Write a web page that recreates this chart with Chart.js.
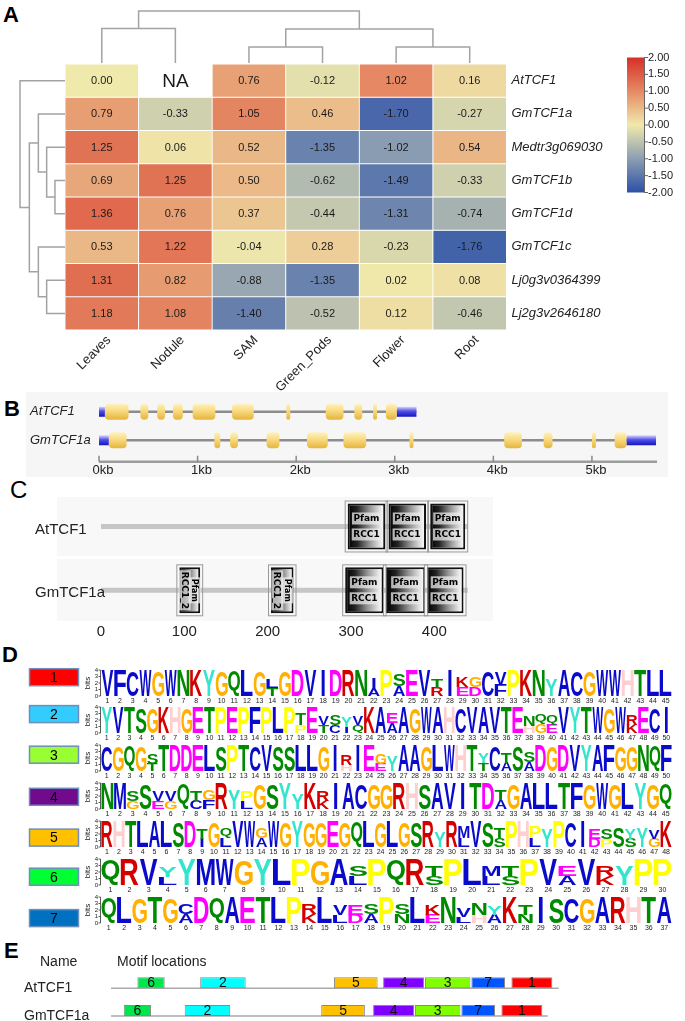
<!DOCTYPE html>
<html><head><meta charset="utf-8">
<script src="https://cdn.jsdelivr.net/npm/chart.js@4.4.1/dist/chart.umd.min.js"></script>
<style>
html,body{margin:0;padding:0;background:#fff;}
#wrap{position:relative;width:685px;height:1021px;overflow:hidden;background:#fff;}
#wrap canvas{position:absolute;left:0;}
.plab{position:absolute;font:bold 22px "Liberation Sans",Arial,sans-serif;line-height:22px;color:#000;}
</style></head><body><div id="wrap">
<div class="plab" style="left:3px;top:4px">A</div>
<div class="plab" style="left:4px;top:398px">B</div>
<div class="plab" style="left:10px;top:479px;font-weight:normal;font-size:24px">C</div>
<div class="plab" style="left:2px;top:644px">D</div>
<div class="plab" style="left:4px;top:940px">E</div>
</div>
<script>
// ===================== DATA =====================
// Panel A – expression heatmap
const tissues = ['Leaves', 'Nodule', 'SAM', 'Green_Pods', 'Flower', 'Root'];
const genes = ['AtTCF1', 'GmTCF1a', 'Medtr3g069030', 'GmTCF1b', 'GmTCF1d', 'GmTCF1c', 'Lj0g3v0364399', 'Lj2g3v2646180'];
const AtTCF1 = [0.00, null, 0.76, -0.12, 1.02, 0.16];
const GmTCF1a = [0.79, -0.33, 1.05, 0.46, -1.70, -0.27];
const Medtr3g069030 = [1.25, 0.06, 0.52, -1.35, -1.02, 0.54];
const GmTCF1b = [0.69, 1.25, 0.50, -0.62, -1.49, -0.33];
const GmTCF1d = [1.36, 0.76, 0.37, -0.44, -1.31, -0.74];
const GmTCF1c = [0.53, 1.22, -0.04, 0.28, -0.23, -1.76];
const Lj0g3v0364399 = [1.31, 0.82, -0.88, -1.35, 0.02, 0.08];
const Lj2g3v2646180 = [1.18, 1.08, -1.40, -0.52, 0.12, -0.46];
const exprRows = [AtTCF1, GmTCF1a, Medtr3g069030, GmTCF1b, GmTCF1d, GmTCF1c, Lj0g3v0364399, Lj2g3v2646180];
const colorbarTicks = [2.00, 1.50, 1.00, 0.50, 0.00, -0.50, -1.00, -1.50, -2.00];
// dendrograms: [childA, childB, mergeHeight]; new node ids follow the leaves
const colTreeMerges = [[2, 3, 0.92], [4, 5, 0.92], [0, 1, 2.0], [6, 7, 1.96], [8, 9, 3.0]];
const rowTreeMerges = [[3, 4, 0.58], [2, 8, 1.06], [6, 7, 1.06], [1, 9, 1.54], [5, 10, 1.54], [11, 12, 2.06], [0, 13, 2.6]];

// Panel B – gene structures (kb)
const geneNames = ['AtTCF1', 'GmTCF1a'];
const geneSpans = [[0, 3.22], [0, 5.65]];
const atUTRs = [[0, 0.06], [3.02, 3.22]];
const gmUTRs = [[0, 0.10], [5.35, 5.65]];
const atExons = [[0.06, 0.30], [0.42, 0.50], [0.59, 0.67], [0.75, 0.85], [0.95, 1.18], [1.35, 1.57], [1.90, 1.94], [2.30, 2.48], [2.59, 2.67], [2.78, 2.82], [2.91, 3.02]];
const gmExons = [[0.10, 0.28], [1.17, 1.23], [1.33, 1.41], [1.70, 1.83], [2.11, 2.32], [2.48, 2.71], [3.15, 3.19], [4.11, 4.29], [4.51, 4.60], [5.00, 5.04], [5.23, 5.35]];
const kbTicks = [0, 1, 2, 3, 4, 5];

// Panel C – protein domains (aa)
const protNames = ['AtTCF1', 'GmTCF1a'];
const protLengths = [440, 440];
const atRCC1 = [[296, 341], [345, 390], [395, 437]];
const gmRCC1 = [[293, 339], [342, 389], [391, 435]];
const gmRCC1_2 = [[94, 119], [204, 231]];
const aaTicks = [0, 100, 200, 300, 400];

// Panel D – motif logos (top letter / lower letter per column, heights in bits)
const m1Top = "VFCWGWNKYGQLGLGDVIDRNIPSEVTIKGCVPKNYACGWWHTLL";
const m1Low = "-------------T-------A-A--R-ED-F-------------";
const m1TopBits = [3.9,3.9,3.9,3.9,3.9,3.9,3.9,3.9,3.9,3.9,3.9,3.9,3.9,1.4,3.9,3.9,3.9,3.9,3.9,3.9,3.9,1.6,3.9,1.8,3.9,3.9,1.4,3.9,1.6,1.6,3.9,1.9,3.9,3.9,3.9,2.6,3.9,3.9,3.9,3.9,3.9,3.9,3.9,3.9,3.9];
const m1LowBits = [0,0,0,0,0,0,0,0,0,0,0,0,0,1.2,0,0,0,0,0,0,0,1.2,0,1.5,0,0,1.3,0,1.4,1.4,0,1.7,0,0,0,0,0,0,0,0,0,0,0,0,0];
const m2Top = "YVTSGKHGETPEPFPLPTEVSYVKAEAGWAHCVAVTENQQVYTWGWRECI";
const m2Low = "-----------------P-TCIQ--A-----------HGE------K---";
const m2TopBits = [3.9,3.9,3.9,3.9,3.9,3.9,3.9,3.9,3.9,3.9, 3.9,3.9,3.9,3.9,3.9,3.9,3.9,1.7,3.9,1.4, 1.7,1.6,1.4,3.9,3.9,1.5,3.9,3.9,3.9,3.9, 3.9,3.9,3.9,3.9,3.9,3.9,3.9,1.5,1.5,1.4, 3.9,3.9,3.9,3.9,3.9,3.9,1.5,3.9,3.9,3.9];
const m2LowBits = [0,0,0,0,0,0,0,0,0,0, 0,0,0,0,0,0,0,1.2,0,1.2, 1.2,1.0,1.2,0,0,1.5,0,0,0,0, 0,0,0,0,0,0,0,1.1,1.3,1.3, 0,0,0,0,0,0,1.3,0,0,0];
const m3Top = "CGQGSTDDELSPTCVSSLLGIRIEGYAAGLWHTYCTSSDGDVYAFGGNQF";
const m3Low = "----T----------------H--E--------T-A-A------------";
const m3TopBits = [3.9,3.9,3.9,3.9,1.6,3.9,3.9,3.9,3.9,3.9, 3.9,3.9,3.9,3.9,3.9,3.9,3.9,3.9,3.9,3.9, 3.9,1.5,3.9,3.9,1.5,2.4,3.9,3.9,3.9,3.9, 3.9,3.9,3.9,1.5,3.9,1.6,3.9,1.5,3.9,3.9, 3.9,3.9,3.9,3.9,3.9,3.9,3.9,3.9,3.9,3.9];
const m3LowBits = [0,0,0,0,1.1,0,0,0,0,0, 0,0,0,0,0,0,0,0,0,0, 0,1.0,0,0,1.1,0,0,0,0,0, 0,0,0,1.2,0,1.3,0,1.3,0,0, 0,0,0,0,0,0,0,0,0,0];
const m4Top = "NMSSVVQTGRYPGSYYKRIACGGRHSAVITDTGALLTFGWGLYGQ";
const m4Low = "--G-EG-CF--L-----K-------------A-------------";
const m4TopBits = [3.9,3.9,1.5,3.9,1.5,1.5,3.9,1.5,1.7,3.9, 3.0,1.6,3.9,3.9,3.9,2.4,3.9,1.5,3.9,3.9, 3.9,3.9,3.9,3.9,3.9,3.9,3.9,3.9,3.9,3.9, 3.9,1.5,3.9,3.9,3.9,3.9,3.9,3.9,3.9,3.9, 3.9,3.9,3.9,3.9,3.9];
const m4LowBits = [0,0,1.2,0,1.2,1.2,0,1.3,1.3,0, 0,1.2,0,0,0,0,0,1.3,0,0, 0,0,0,0,0,0,0,0,0,0, 0,1.4,0,0,0,0,0,0,0,0, 0,0,0,0,0];
const m5Top = "RHTLALSDTGQVWGWGYGGEGQLGLGSRYRMVSTPHPYPCIESSYYVK";
const m5Low = "--------I-L--A----------------L--S--L----DP-S-G-";
const m5TopBits = [3.9,3.9,3.9,3.9,3.9,3.9,3.9,3.9,1.5,3.9, 1.6,3.9,3.9,1.6,3.9,3.9,3.9,3.9,3.9,3.9, 3.9,3.9,3.9,3.9,3.9,3.9,3.9,3.9,2.4,3.9, 1.7,3.9,3.9,1.6,3.9,3.9,1.8,2.8,3.9,3.9, 3.9,1.6,1.6,3.0,1.5,3.0,1.4,3.9];
const m5LowBits = [0,0,0,0,0,0,0,0,1.3,0, 1.3,0,0,1.4,0,0,0,0,0,0, 0,0,0,0,0,0,0,0,0,0, 1.4,0,0,1.4,0,0,1.3,0,0,0, 0,1.3,1.2,0,1.3,0,1.3,0];
const m6Top = "QRVYYMWGYLPGASPQRTPLMTPVEVRYPP";
const m6Low = "---L---------L---S--LS--A-K---";
const m6TopBits = [3.9,3.9,3.9,1.6,3.9,3.9,3.9,3.9,3.9,3.9, 3.9,3.9,3.9,1.7,3.9,3.9,3.9,1.6,3.9,3.9, 1.6,1.6,3.9,3.9,1.6,3.9,1.6,3.0,3.9,3.9];
const m6LowBits = [0,0,0,1.2,0,0,0,0,0,0, 0,0,0,1.4,0,0,0,1.4,0,0, 1.4,1.4,0,0,1.4,0,1.4,0,0,0];
const m7Top = "QLGTGCDQAETLPRLVESPSLKNVNYKTISCGARHTA";
const m7Low = "-----A-------K-LDA-N-E-LHA-N---------";
const m7TopBits = [3.9,3.9,3.9,3.9,3.9,1.6,3.9,3.9,3.9,3.9, 3.9,3.9,3.9,1.6,3.9,1.5,1.5,1.5,3.9,1.7, 3.9,1.6,3.9,1.4,1.7,1.4,3.9,1.5,3.9,3.9, 3.9,3.9,3.9,3.9,3.9,3.9,3.9];
const m7LowBits = [0,0,0,0,0,1.4,0,0,0,0, 0,0,0,1.4,0,1.2,1.3,1.3,0,1.4, 0,1.3,0,1.0,1.2,1.3,0,1.3,0,0, 0,0,0,0,0,0,0];
const motifTop = [m1Top, m2Top, m3Top, m4Top, m5Top, m6Top, m7Top];
const motifLow = [m1Low, m2Low, m3Low, m4Low, m5Low, m6Low, m7Low];
const motifTopBits = [m1TopBits, m2TopBits, m3TopBits, m4TopBits, m5TopBits, m6TopBits, m7TopBits];
const motifLowBits = [m1LowBits, m2LowBits, m3LowBits, m4LowBits, m5LowBits, m6LowBits, m7LowBits];
const bitTicks = [0, 1, 2, 3, 4];

// Panel E – motif locations (aa)
const motifOrder = [6, 2, 5, 4, 3, 7, 1];
const atMotifStart = [29, 98, 245, 299, 345, 396, 440];
const gmMotifStart = [14, 81, 231, 288, 334, 385, 429];
const seqLengths = [492, 480];

// ===================== STYLE / HELPERS =====================
const FONT = '"Liberation Sans", Arial, Helvetica, sans-serif';
const heatStops = [[-2, [44, 80, 166]], [-1, [140, 158, 178]], [0, [240, 233, 172]], [1, [229, 138, 100]], [2, [214, 47, 39]]];
function heatColor(v) {
  v = Math.max(-2, Math.min(2, v));
  for (let i = 0; i < heatStops.length - 1; i++) {
    const [a, ca] = heatStops[i], [b, cb] = heatStops[i + 1];
    if (v <= b) {
      const t = (v - a) / (b - a);
      return 'rgb(' + ca.map((c, k) => Math.round(c + (cb[k] - c) * t)).join(',') + ')';
    }
  }
}
const aaColors = {A:'#0a0acc',C:'#0a0acc',F:'#0a0acc',I:'#0a0acc',L:'#0a0acc',V:'#0a0acc',W:'#0a0acc',M:'#0a0acc',
  N:'#008a00',Q:'#008a00',S:'#008a00',T:'#008a00',D:'#ff00ff',E:'#ff00ff',K:'#d40000',R:'#d40000',
  H:'#ffcfcf',G:'#ffb000',P:'#ffff00',Y:'#33e5cc'};
const dColors = ['#ff0000', '#33ccff', '#99ff33', '#720a8e', '#ffc000', '#00ff33', '#0070c0'];
const eColors = ['#ff0000', '#00ffff', '#80ff00', '#8000ff', '#ffc000', '#00e64d', '#0055ff'];
const wrap = document.getElementById('wrap');
function makeCanvas(top, height) {
  const c = document.createElement('canvas');
  c.width = 685; c.height = height;
  c.style.top = top + 'px'; c.style.width = '685px'; c.style.height = height + 'px';
  wrap.appendChild(c);
  return c;
}
const tidyTicks = (s) => { s.ticks = [{ value: s.min }, { value: s.max }]; };
const baseOpts = { responsive: false, animation: false, devicePixelRatio: 1, events: [],
  plugins: { legend: { display: false }, tooltip: { enabled: false }, colors: { enabled: false } } };

// ===================== PANEL A =====================
function drawTree(ctx, leafPos, merges, base, k, horizontal) {
  const pos = leafPos.slice(), h = leafPos.map(() => 0);
  ctx.beginPath();
  merges.forEach(([a, b, mh]) => {
    const m = base - mh * k;
    if (!horizontal) {
      ctx.moveTo(pos[a], base - h[a] * k); ctx.lineTo(pos[a], m); ctx.lineTo(pos[b], m); ctx.lineTo(pos[b], base - h[b] * k);
    } else {
      ctx.moveTo(base - h[a] * k, pos[a]); ctx.lineTo(m, pos[a]); ctx.lineTo(m, pos[b]); ctx.lineTo(base - h[b] * k, pos[b]);
    }
    pos.push((pos[a] + pos[b]) / 2); h.push(mh);
  });
  ctx.stroke();
}
const heatPlugin = {
  id: 'heatDecor',
  afterDatasetsDraw(chart) {
    const { ctx, chartArea: ca, scales: { x: xs, y: ys } } = chart;
    ctx.save();
    ctx.textAlign = 'center'; ctx.textBaseline = 'middle'; ctx.fillStyle = '#1a1a1a';
    chart.data.datasets.forEach((ds, r) => {
      chart.getDatasetMeta(r).data.forEach((el, c) => {
        const v = exprRows[r][c];
        const cy = (el.y + el.base) / 2;
        if (v === null) { ctx.font = '19px ' + FONT; ctx.fillText('NA', el.x, cy + 1); }
        else { ctx.font = '11px ' + FONT; ctx.fillText(v.toFixed(2), el.x, cy + 0.5); }
      });
    });
    ctx.fillStyle = '#222';
    ctx.textAlign = 'left'; ctx.font = 'italic 13px ' + FONT;
    genes.forEach((g, r) => ctx.fillText(g, ca.right + 5, ys.getPixelForValue(r + 0.5)));
    ctx.font = '13px ' + FONT; ctx.textAlign = 'right';
    tissues.forEach((t, c) => {
      ctx.save(); ctx.translate(xs.getPixelForValue(c) + 7, ca.bottom + 8); ctx.rotate(-Math.PI / 4);
      ctx.fillText(t, 0, 0); ctx.restore();
    });
    ctx.strokeStyle = '#a3a3a3'; ctx.lineWidth = 1.5;
    drawTree(ctx, tissues.map((_, i) => xs.getPixelForValue(i)), colTreeMerges, ca.top - 1, 17.3, false);
    drawTree(ctx, genes.map((_, r) => ys.getPixelForValue(r + 0.5)), rowTreeMerges, ca.left, 17.3, true);
    const bx0 = 627, bx1 = 644, by0 = 57.5, by1 = 192.5;
    const g = ctx.createLinearGradient(0, by0, 0, by1);
    heatStops.forEach(([v, c]) => g.addColorStop((2 - v) / 4, 'rgb(' + c.join(',') + ')'));
    ctx.fillStyle = g; ctx.fillRect(bx0, by0, bx1 - bx0, by1 - by0);
    ctx.strokeStyle = '#666'; ctx.lineWidth = 1;
    ctx.beginPath(); ctx.moveTo(bx1 + 0.5, by0); ctx.lineTo(bx1 + 0.5, by1);
    colorbarTicks.forEach(t => { const yy = by0 + (2 - t) / 4 * (by1 - by0); ctx.moveTo(bx1, yy); ctx.lineTo(bx1 + 4, yy); });
    ctx.stroke();
    ctx.fillStyle = '#222'; ctx.font = '11px ' + FONT; ctx.textAlign = 'left'; ctx.textBaseline = 'middle';
    colorbarTicks.forEach(t => ctx.fillText(t.toFixed(2), bx1 + 4, by0 + (2 - t) / 4 * (by1 - by0)));
    ctx.restore();
  }
};
new Chart(makeCanvas(0, 400), {
  type: 'bar',
  data: { labels: tissues, datasets: genes.map((g, r) => ({
    label: g, data: tissues.map(() => [r, r + 1]),
    backgroundColor: exprRows[r].map(v => v === null ? '#ffffff' : heatColor(v)),
    borderColor: '#ffffff', borderWidth: 0.8, borderSkipped: false,
    barPercentage: 1, categoryPercentage: 1, grouped: false })) },
  options: { ...baseOpts, layout: { padding: { left: 65, right: 178.5, top: 64, bottom: 70 } },
    scales: { x: { display: false }, y: { display: false, min: 0, max: 8, reverse: true, afterBuildTicks: tidyTicks } } },
  plugins: [heatPlugin]
});

// ===================== PANEL B =====================
function rowGradient(c, stops, half) {
  const ch = c.chart, ys = ch.scales.y;
  if (!ys || !c.raw || !ch.chartArea) return stops[1][1];
  const yc = ys.getPixelForValue(c.raw.y);
  const g = ch.ctx.createLinearGradient(0, yc - half, 0, yc + half);
  stops.forEach(([o, col]) => g.addColorStop(o, col));
  return g;
}
const genePlugin = {
  id: 'geneDecor',
  beforeDatasetsDraw(chart) {
    const ctx = chart.ctx; ctx.save(); ctx.fillStyle = '#f6f6f6'; ctx.fillRect(26, 32, 642, 85); ctx.restore();
  },
  afterDatasetsDraw(chart) {
    const { ctx, chartArea: ca, scales: { x: xs, y: ys } } = chart;
    ctx.save();
    ctx.fillStyle = '#222'; ctx.font = 'italic 13px ' + FONT; ctx.textAlign = 'left'; ctx.textBaseline = 'middle';
    geneNames.forEach((n, r) => ctx.fillText(n, 30, ys.getPixelForValue(r)));
    ctx.strokeStyle = '#9c9c9c'; ctx.lineWidth = 2.5;
    ctx.beginPath(); ctx.moveTo(xs.getPixelForValue(0), ca.bottom); ctx.lineTo(ca.right, ca.bottom); ctx.stroke();
    ctx.lineWidth = 1.5; ctx.strokeStyle = '#8a8a8a'; ctx.beginPath();
    kbTicks.forEach(t => { const px = xs.getPixelForValue(t); ctx.moveTo(px, ca.bottom); ctx.lineTo(px, ca.bottom - 6); });
    ctx.stroke();
    ctx.font = '13px ' + FONT; ctx.textAlign = 'center';
    kbTicks.forEach(t => ctx.fillText(t + 'kb', xs.getPixelForValue(t) + 4, ca.bottom + 9));
    ctx.restore();
  }
};
const exonStops = [[0, '#fff2c0'], [0.45, '#f8da80'], [1, '#e6b43a']];
const utrStops = [[0, '#d8d8ff'], [0.45, '#5050e6'], [1, '#1414c0']];
new Chart(makeCanvas(360, 120), {
  type: 'bar',
  data: { datasets: [
    { data: [...atExons.map(s => ({ x: s, y: 0 })), ...gmExons.map(s => ({ x: s, y: 1 }))],
      backgroundColor: c => rowGradient(c, exonStops, 8), maxBarThickness: 16, borderRadius: 4, borderSkipped: false, grouped: false, order: 0 },
    { data: [...atUTRs.map(s => ({ x: s, y: 0 })), ...gmUTRs.map(s => ({ x: s, y: 1 }))],
      backgroundColor: c => rowGradient(c, utrStops, 5), maxBarThickness: 10, grouped: false, order: 1 },
    { data: geneSpans.map((s, r) => ({ x: s, y: r })), backgroundColor: '#8c8c8c', maxBarThickness: 2.5, grouped: false, order: 2 }
  ] },
  options: { ...baseOpts, indexAxis: 'y', layout: { padding: { left: 99, right: 28, top: 34.5, bottom: 18.25 } },
    scales: { x: { type: 'linear', display: false, min: 0, max: 5.66 },
              y: { type: 'linear', display: false, offset: false, min: -0.6, max: 1.75, reverse: true, afterBuildTicks: tidyTicks } } },
  plugins: [genePlugin]
});

// ===================== PANEL C =====================
const domainPlugin = {
  id: 'domainDecor',
  beforeDatasetsDraw(chart) {
    const ctx = chart.ctx; ctx.save(); ctx.fillStyle = '#f8f8f8';
    ctx.fillRect(57, 27, 436, 59); ctx.fillRect(57, 89, 436, 62); ctx.restore();
  },
  afterDatasetsDraw(chart) {
    const { ctx, chartArea: ca, scales: { x: xs, y: ys } } = chart;
    ctx.save();
    chart.data.datasets.forEach((ds, di) => {
      if (!ds.domain) return;
      chart.getDatasetMeta(di).data.forEach(el => {
        const left = Math.min(el.x, el.base), right = Math.max(el.x, el.base), top = el.y - el.height / 2, h = el.height;
        ctx.strokeStyle = '#9a9a9a'; ctx.lineWidth = 1;
        ctx.strokeRect(left - 2.5, top - 2.5, right - left + 5, h + 5);
        const cx = (left + right) / 2;
        ctx.save(); ctx.translate(cx, el.y);
        if (ds.domain === 'RCC1_2') ctx.rotate(Math.PI / 2);
        const lines = ds.domain === 'RCC1_2' ? [['Pfam', -5, 'bold 8px'], ['RCC1_2', 5, 'bold 9px']] : [['Pfam', -8, 'bold 9px'], ['RCC1', 8, 'bold 9px']];
        ctx.textAlign = 'center'; ctx.textBaseline = 'middle';
        lines.forEach(([t, off, f]) => {
          ctx.font = f + ' "DejaVu Sans", sans-serif';
          const w = ctx.measureText(t).width;
          ctx.fillStyle = 'rgba(235,235,235,0.75)'; ctx.fillRect(-w / 2 - 1.5, off - 6, w + 3, 12);
          ctx.fillStyle = '#000'; ctx.fillText(t, 0, off + 0.5);
        });
        ctx.restore();
      });
    });
    ctx.fillStyle = '#222'; ctx.font = '15px ' + FONT; ctx.textAlign = 'left'; ctx.textBaseline = 'middle';
    protNames.forEach((n, r) => ctx.fillText(n, 35, ys.getPixelForValue(r) + 3));
    ctx.textAlign = 'center';
    aaTicks.forEach(t => ctx.fillText(String(t), xs.getPixelForValue(t), ca.bottom + 3));
    ctx.restore();
  }
};
function domainGrad(c) {
  const ch = c.chart, xs = ch.scales.x;
  if (!xs || !c.raw || !ch.chartArea) return '#555';
  const g = ch.ctx.createLinearGradient(xs.getPixelForValue(c.raw.x[0]), 0, xs.getPixelForValue(c.raw.x[1]), 0);
  g.addColorStop(0, '#000'); g.addColorStop(0.25, '#222'); g.addColorStop(0.6, '#9a9a9a'); g.addColorStop(0.9, '#efefef'); g.addColorStop(1, '#fff');
  return g;
}
new Chart(makeCanvas(470, 170), {
  type: 'bar',
  data: { datasets: [
    { domain: 'RCC1', data: [...atRCC1.map(s => ({ x: s, y: 0 })), ...gmRCC1.map(s => ({ x: s, y: 1 }))],
      backgroundColor: domainGrad, borderColor: '#111', borderWidth: 2, borderSkipped: false, maxBarThickness: 52, grouped: false, order: 0 },
    { domain: 'RCC1_2', data: gmRCC1_2.map(s => ({ x: s, y: 1 })),
      backgroundColor: domainGrad, borderColor: '#111', borderWidth: 2, borderSkipped: false, maxBarThickness: 52, grouped: false, order: 0 },
    { data: protLengths.map((l, r) => ({ x: [0, l], y: r })), backgroundColor: '#c6c6c6', maxBarThickness: 5, grouped: false, order: 2 }
  ] },
  options: { ...baseOpts, indexAxis: 'y', layout: { padding: { left: 101, right: 192.3, top: 18.2, bottom: 11.4 } },
    scales: { x: { type: 'linear', display: false, min: 0, max: 470 },
              y: { type: 'linear', display: false, offset: false, min: -0.6, max: 1.6, reverse: true, afterBuildTicks: tidyTicks } } },
  plugins: [domainPlugin]
});

// ===================== PANEL D =====================
let glyphCache = {};
function drawLetter(ctx, ch, x0, y0, w, h, color) {
  if (h < 0.5 || !ch || ch === '-') return;
  ctx.save();
  ctx.font = 'bold 100px ' + FONT; ctx.textAlign = 'left'; ctx.textBaseline = 'alphabetic';
  let m = glyphCache[ch];
  if (!m) { const t = ctx.measureText(ch); m = glyphCache[ch] = [t.actualBoundingBoxLeft, t.actualBoundingBoxRight, t.actualBoundingBoxAscent, t.actualBoundingBoxDescent]; }
  const gw = m[0] + m[1], gh = m[2] + m[3];
  const tw = ch === 'I' ? w * 0.28 : w;
  ctx.translate(x0 + (w - tw) / 2, y0);
  ctx.scale(tw / gw, h / gh);
  ctx.fillStyle = color;
  ctx.fillText(ch, m[0], m[2]);
  ctx.restore();
}
const logoPlugin = {
  id: 'logo',
  afterDatasetsDraw(chart, args, opts) {
    const { ctx, chartArea: ca, scales: { x: xs, y: ys } } = chart;
    const i = opts.idx;
    ctx.save();
    chart.data.datasets.forEach((ds, di) => {
      chart.getDatasetMeta(di).data.forEach((el, k) => {
        const ch = ds.letters[k];
        const w = el.width * 0.94;
        drawLetter(ctx, ch, el.x - w / 2, el.y, w, el.base - el.y, aaColors[ch] || '#000');
      });
    });
    ctx.strokeStyle = '#333'; ctx.lineWidth = 0.8;
    ctx.beginPath(); ctx.moveTo(ca.left - 0.5, ys.getPixelForValue(0)); ctx.lineTo(ca.left - 0.5, ys.getPixelForValue(4));
    bitTicks.forEach(t => { const yy = ys.getPixelForValue(t); ctx.moveTo(ca.left - 2.5, yy); ctx.lineTo(ca.left - 0.5, yy); });
    ctx.stroke();
    ctx.fillStyle = '#222'; ctx.font = '6px ' + FONT; ctx.textAlign = 'right'; ctx.textBaseline = 'middle';
    bitTicks.forEach(t => ctx.fillText(String(t), ca.left - 3, ys.getPixelForValue(t)));
    ctx.save(); ctx.translate(ca.left - 13, ys.getPixelForValue(2)); ctx.rotate(-Math.PI / 2);
    ctx.font = '8px ' + FONT; ctx.textAlign = 'center'; ctx.fillText('bits', 0, 0); ctx.restore();
    ctx.font = '7px ' + FONT; ctx.textAlign = 'center'; ctx.textBaseline = 'middle';
    chart.data.labels.forEach((l, k) => ctx.fillText(l, xs.getPixelForValue(k), ca.bottom + 5.5));
    const by = opts.boxCenter - opts.top;
    ctx.fillStyle = dColors[i]; ctx.fillRect(29.5, by - 8.5, 49, 17);
    ctx.strokeStyle = '#6d8fbd'; ctx.lineWidth = 1.5; ctx.strokeRect(29.5, by - 8.5, 49, 17);
    ctx.fillStyle = '#000'; ctx.font = '14px ' + FONT; ctx.textAlign = 'center';
    ctx.fillText(String(i + 1), 54, by + 1);
    ctx.restore();
  }
};
const logoBoxCenters = [676.7, 714.5, 755, 797, 837.7, 876.7, 918];
motifTop.forEach((seq, i) => {
  const baseline = 695.5 + 37.9 * i;
  const top = baseline - 34;
  new Chart(makeCanvas(top, 46), {
    type: 'bar',
    data: { labels: Array.from(seq, (_, k) => String(k + 1)),
      datasets: [
        { letters: motifLow[i], data: motifLowBits[i], backgroundColor: 'rgba(0,0,0,0)', borderWidth: 0, barPercentage: 1, categoryPercentage: 1 },
        { letters: seq, data: motifTopBits[i], backgroundColor: 'rgba(0,0,0,0)', borderWidth: 0, barPercentage: 1, categoryPercentage: 1 }
      ] },
    options: { ...baseOpts, layout: { padding: { left: 101, right: 13, top: 8, bottom: 12 } },
      scales: { x: { display: false, stacked: true }, y: { display: false, stacked: true, min: 0, max: 4 } },
      plugins: { ...baseOpts.plugins, logo: { idx: i, top: top, boxCenter: logoBoxCenters[i] } } },
    plugins: [logoPlugin]
  });
});

// ===================== PANEL E =====================
const motifPlugin = {
  id: 'motifDecor',
  beforeDatasetsDraw(chart) {
    const { ctx, scales: { x: xs, y: ys } } = chart;
    ctx.save(); ctx.strokeStyle = '#aaaaaa'; ctx.lineWidth = 1.5; ctx.beginPath();
    seqLengths.forEach((l, r) => { const yy = ys.getPixelForValue(r) + 5.5; ctx.moveTo(xs.getPixelForValue(0), yy); ctx.lineTo(xs.getPixelForValue(l), yy); });
    ctx.stroke(); ctx.restore();
  },
  afterDatasetsDraw(chart) {
    const { ctx, scales: { x: xs, y: ys } } = chart;
    ctx.save();
    ctx.fillStyle = '#111'; ctx.font = '14px ' + FONT; ctx.textAlign = 'center'; ctx.textBaseline = 'middle';
    chart.data.datasets.forEach((ds, di) => chart.getDatasetMeta(di).data.forEach((el, k) => {
      ctx.fillText(String(ds.data[k].m), (el.x + el.base) / 2, el.y + 0.5);
    }));
    ctx.fillStyle = '#222'; ctx.textAlign = 'left';
    ctx.fillText('Name', 40, 41.7);
    ctx.fillText('Motif locations', 117, 41.7);
    protNames.forEach((n, r) => ctx.fillText(n, 24, ys.getPixelForValue(r) + 5.5));
    ctx.restore();
  }
};
const motifBars = (starts, r) => motifOrder.map((m, k) => ({ x: [starts[k], starts[k] + motifTop[m - 1].length], y: r, m }));
new Chart(makeCanvas(920, 101), {
  type: 'bar',
  data: { datasets: [atMotifStart, gmMotifStart].map((st, r) => ({
    data: motifBars(st, r), backgroundColor: c => (c.raw ? eColors[c.raw.m - 1] : '#ccc'),
    borderColor: '#8a8a8a', borderWidth: 1, borderSkipped: false, maxBarThickness: 11, grouped: false })) },
  options: { ...baseOpts, indexAxis: 'y', layout: { padding: { left: 111, right: 28, top: 21.25, bottom: 4.96 } },
    scales: { x: { type: 'linear', display: false, min: 0, max: 600 },
              y: { type: 'linear', display: false, offset: false, min: -1.5, max: 1.2, reverse: true, afterBuildTicks: tidyTicks } } },
  plugins: [motifPlugin]
});
</script></body></html>
